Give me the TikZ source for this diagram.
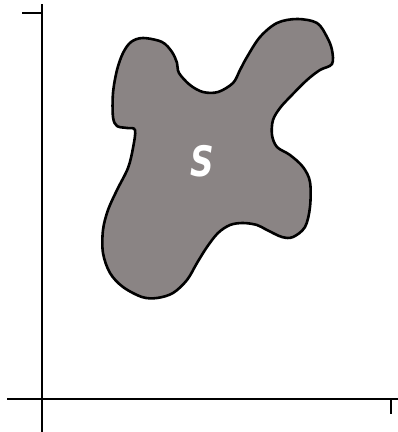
\documentclass[tikz,border=0pt]{standalone}
\usepackage{fontspec}
\usepackage{tikz}
\usetikzlibrary{positioning}
\newfontfamily\labelfont{DejaVu Sans}
\definecolor{blobgray}{RGB}{138,132,132}

\begin{document}
\begin{tikzpicture}[x=1pt,y=-1pt,
    axis/.style={line width=2pt,black},
    blob/.style={line width=2.6pt,black,fill=blobgray,line join=round}]
    \useasboundingbox (0,0) rectangle (398,432);
    % axes
    \coordinate (o) at (42,399);
    \coordinate (ytop) at (42,4);
    \coordinate (ybot) at (42,432);
    \coordinate (xleft) at (7,399);
    \coordinate (xright) at (398,399);
    \draw[axis] (ybot) -- (ytop);
    \draw[axis] (xleft) -- (xright);
    \draw[axis] (22,12.5) -- (42,12.5);
    \draw[axis] (391,399) -- (391,414);
    % the set
    \draw[blob] plot[smooth cycle,tension=0.55] coordinates {
        (131,42) (143,38) (162,42) (172,52) (177,63) (179,73) (190,85)
        (203,92) (218,92) (233,83) (240,70) (247,57) (260,37) (277,23)
        (297,19) (317,23) (327,37) (332,50) (332,64) (320,70) (307,80)
        (290,97) (280,108) (273,120) (272,135) (277,147) (290,155)
        (303,167) (310,182) (310,207) (305,227) (293,237) (282,237)
        (267,230) (257,225) (243,223) (230,225) (218,233) (207,247)
        (197,263) (187,280) (173,293) (157,298) (142,297) (123,287)
        (110,273) (103,253) (103,230) (108,210) (117,190) (128,168)
        (133,148) (135,130) (127,128) (117,126) (113,117) (113,93)
        (117,70) (123,53)};
    \node[font=\labelfont\bfseries\itshape\fontsize{42}{42}\selectfont,text=white,
          xscale=0.78] (setS) at (202,161) {S};
\end{tikzpicture}
\end{document}
